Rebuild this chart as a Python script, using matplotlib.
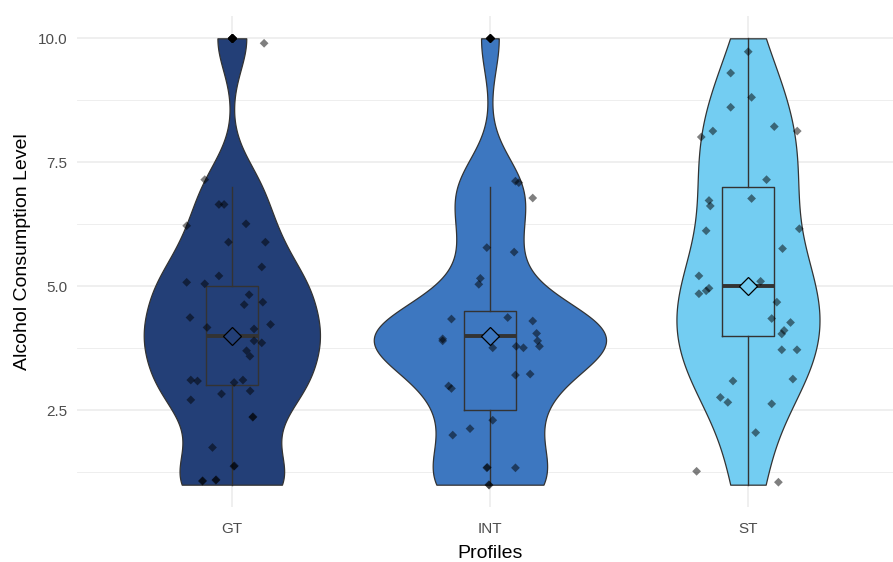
import numpy as np
import matplotlib.pyplot as plt

plt.rcParams['font.family'] = ['Liberation Sans', 'DejaVu Sans']

profiles = ["GT", "INT", "ST"]
fills = ["#233F77", "#3D77C0", "#73CDF2"]

# underlying (integer) scores per profile
gt_values = [10, 10, 7, 7, 7, 6, 6, 6, 6, 5, 5, 5, 5, 5, 5, 5, 4, 4, 4, 4, 4, 4, 4, 4,
             3, 3, 3, 3, 3, 3, 3, 2, 2, 1, 1, 1, 1, 1, 2, 1]
int_values = [10, 7, 7, 7, 6, 6, 5, 5, 4, 4, 4, 4, 4, 4, 4, 4, 4, 4, 4, 3, 3, 3, 3,
              2, 2, 2, 1, 1, 1, 1, 1]
st_values = [10, 9, 9, 9, 8, 8, 8, 8, 7, 7, 7, 7, 6, 6, 6, 5, 5, 5, 5, 5, 5, 4, 4, 4,
             4, 4, 4, 3, 3, 3, 3, 3, 2, 1, 1]

# jittered point positions (x offset from category, y)
gt_dx = [0.0, 0.125, -0.105, -0.05, -0.03, -0.175, 0.055, -0.013, 0.13, 0.116, -0.175,
         -0.105, -0.05, 0.067, 0.048, 0.12, -0.162, -0.096, 0.15, 0.086, 0.086, 0.116,
         0.057, 0.07, -0.159, -0.133, 0.009, 0.043, -0.04, 0.071, -0.159, 0.081, -0.075,
         0.008, 0.01, -0.114, -0.062, -0.061, 0.082, -0.113]
gt_y = [10.0, 9.9, 7.15, 6.65, 6.65, 6.22, 6.26, 5.89, 5.89, 5.39, 5.08, 5.05, 5.21,
        4.83, 4.63, 4.68, 4.37, 4.17, 4.23, 4.14, 3.90, 3.86, 3.70, 3.59, 3.11, 3.09,
        3.06, 3.11, 2.83, 2.89, 2.71, 2.36, 1.75, 1.37, 1.38, 1.07, 1.09, 1.10, 2.37,
        1.08]
int_dx = [0.0, 0.099, 0.112, 0.166, -0.012, 0.094, -0.037, -0.043, -0.149, 0.069, 0.166,
          0.181, -0.183, -0.183, 0.185, 0.192, 0.011, 0.102, 0.13, 0.156, 0.099, -0.16,
          -0.149, 0.011, -0.077, -0.144, -0.012, 0.099, -0.003, -0.004, -0.01]
int_y = [10.0, 7.12, 7.09, 6.78, 5.78, 5.69, 5.16, 5.04, 4.34, 4.37, 4.30, 4.05, 3.94,
         3.90, 3.90, 3.79, 3.76, 3.79, 3.76, 3.23, 3.21, 2.99, 2.94, 2.30, 2.13, 2.00,
         1.34, 1.34, 0.99, 1.00, 1.35]
st_dx = [0.001, -0.067, 0.014, -0.067, 0.102, -0.136, -0.181, 0.191, 0.072, 0.014,
         -0.151, -0.146, -0.162, 0.199, 0.134, -0.19, 0.049, -0.19, -0.162, -0.151, 0.112,
         0.092, 0.165, 0.14, 0.131, 0.131, 0.19, -0.058, 0.174, -0.107, -0.078, 0.092,
         0.03, -0.199, 0.118]
st_y = [9.73, 9.30, 8.81, 8.61, 8.22, 8.13, 8.01, 8.13, 7.15, 6.77, 6.73, 6.62, 6.12,
        6.16, 5.76, 5.21, 5.10, 4.85, 4.91, 4.96, 4.68, 4.35, 4.27, 4.11, 4.04, 3.72,
        3.72, 3.09, 3.13, 2.76, 2.66, 2.63, 2.05, 1.27, 1.05]

values = [gt_values, int_values, st_values]
jit_dx = [gt_dx, int_dx, st_dx]
jit_y = [gt_y, int_y, st_y]


def nrd0(x):
    q75, q25 = np.percentile(x, [75, 25])
    lo = min(np.std(x, ddof=1), (q75 - q25) / 1.34)
    return 0.9 * lo * len(x) ** -0.2


def density(x, grid):
    bw = nrd0(x)
    z = (grid[:, None] - x[None, :]) / bw
    return np.exp(-0.5 * z ** 2).sum(axis=1) / (len(x) * bw * np.sqrt(2 * np.pi))


grids = []
dens = []
for v in values:
    v = np.asarray(v, float)
    g = np.linspace(v.min(), v.max(), 512)
    grids.append(g)
    dens.append(density(v, g))
dmax = max(d.max() for d in dens)

fig = plt.figure(figsize=(8.93, 5.62), dpi=100)
ax = fig.add_axes([77 / 893, 55 / 562, 816 / 893, 491 / 562])

for i, (v, g, d, col) in enumerate(zip(values, grids, dens, fills)):
    w = 0.45 * d / dmax
    ax.fill_betweenx(g, i - w, i + w, facecolor=col, edgecolor='#333333', lw=0.9, zorder=2)

ax.boxplot(values, positions=range(3), widths=0.2, whis=1.5, showcaps=False,
           manage_ticks=False,
           boxprops=dict(color='#333333', lw=1.0),
           whiskerprops=dict(color='#333333', lw=1.0),
           medianprops=dict(color='#333333', lw=2.8),
           flierprops=dict(marker='D', markerfacecolor='black', markeredgecolor='black',
                           markersize=4.5),
           zorder=3)

for i in range(3):
    ax.scatter(np.asarray(jit_dx[i]) + i, jit_y[i], marker='D', s=20, color='black',
               alpha=0.5, edgecolors='none', zorder=4)
    ax.plot(i, np.median(values[i]), marker='D', ms=9, mfc=fills[i], mec='black',
            mew=0.9, zorder=5)

ax.set_xlim(-0.6, 2 + 145 / 258)
ax.set_ylim(0.55, 10.45)
ax.set_xticks(range(3))
ax.set_xticklabels(profiles)
ax.set_yticks([2.5, 5.0, 7.5, 10.0])
ax.set_yticklabels(["2.5", "5.0", "7.5", "10.0"])
ax.set_yticks([1.25, 3.75, 6.25, 8.75], minor=True)
ax.grid(which='major', color='#EBEBEB', lw=1.1, zorder=0)
ax.grid(which='minor', axis='y', color='#EBEBEB', lw=0.6, zorder=0)
ax.set_axisbelow(True)
for s in ax.spines.values():
    s.set_visible(False)
ax.tick_params(which='both', length=0, labelcolor='#4D4D4D', labelsize=11)
ax.tick_params(axis='x', pad=11)
ax.tick_params(axis='y', pad=7)
ax.set_xlabel("Profiles", fontsize=14)
ax.set_ylabel("Alcohol Consumption Level", fontsize=14)
ax.xaxis.set_label_coords(0.506, -0.0937)
ax.yaxis.set_label_coords(-0.0674, 0.521)
ax.xaxis.label.set_va('center')
ax.yaxis.label.set_va('center')

fig.savefig("out.png", dpi=100)
